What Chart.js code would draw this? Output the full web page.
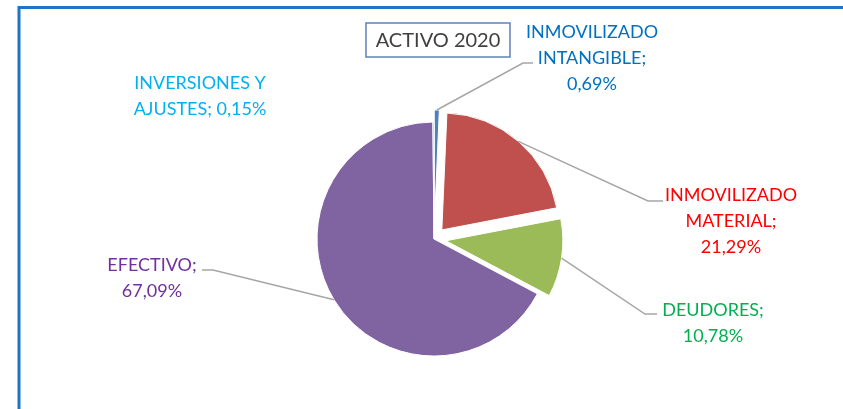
<!DOCTYPE html>
<html>
<head>
<meta charset="utf-8">
<script src="https://cdn.jsdelivr.net/npm/chart.js@4.4.1/dist/chart.umd.min.js"></script>
<style>
  body { margin: 0; background: #fff; }
  #marco { width: 843px; height: 409px; position: relative; }
</style>
</head>
<body>
<div id="marco"><canvas id="activo-2020"></canvas></div>
<script>
// datos del gráfico
const categorias = ['INMOVILIZADO INTANGIBLE', 'INMOVILIZADO MATERIAL', 'DEUDORES', 'EFECTIVO', 'INVERSIONES Y AJUSTES'];
const porcentajes = [0.69, 21.29, 10.78, 67.09, 0.15];
const titulo = 'ACTIVO 2020';

// estilo
const coloresSector = ['#4F81BD', '#C0504D', '#9BBB59', '#8064A2', '#4BACC6'];
const coloresTexto = ['#0070C0', '#FF0000', '#00B050', '#7030A0', '#00B0F0'];
const explotar = [12, 12, 12, 0, 0];
// posición de cada etiqueta: centro x, y de la primera línea, codo de la guía (null = sin guía)
const posEtiquetas = [
    { x: 592, y: 32, codo: [523, 63], fin: 533 },
    { x: 731, y: 195, codo: [648, 201], fin: 663 },
    { x: 713, y: 310, codo: [645, 314], fin: 657 },
    { x: 152, y: 265, codo: [213, 270], fin: 202 },
    { x: 200, y: 83, codo: null }
];
const fuente = '18px Lato';

function partirTexto(ctx, texto, ancho) {
    const palabras = texto.split(' ');
    const lineas = [];
    let actual = '';
    palabras.forEach(p => {
        const prueba = actual ? actual + ' ' + p : p;
        if (actual && ctx.measureText(prueba).width > ancho) {
            lineas.push(actual);
            actual = p;
        } else {
            actual = prueba;
        }
    });
    lineas.push(actual);
    return lineas;
}

const despiece = {
    id: 'despiece',
    beforeDraw(chart) {
        const ctx = chart.ctx;
        ctx.save();
        ctx.strokeStyle = '#1F74C6';
        ctx.lineWidth = 3;
        ctx.beginPath();
        ctx.moveTo(19, 409);
        ctx.lineTo(19, 7.5);
        ctx.lineTo(843, 7.5);
        ctx.stroke();
        ctx.restore();
    },
    beforeDatasetDraw(chart) {
        chart.getDatasetMeta(0).data.forEach((arc, i) => {
            const medio = (arc.startAngle + arc.endAngle) / 2;
            arc.x += Math.cos(medio) * explotar[i];
            arc.y += Math.sin(medio) * explotar[i];
        });
    },
    afterDatasetDraw(chart) {
        chart.getDatasetMeta(0).data.forEach((arc, i) => {
            const medio = (arc.startAngle + arc.endAngle) / 2;
            arc.x -= Math.cos(medio) * explotar[i];
            arc.y -= Math.sin(medio) * explotar[i];
        });
    },
    afterDraw(chart) {
        const ctx = chart.ctx;
        ctx.save();
        ctx.font = fuente;
        ctx.textAlign = 'center';
        ctx.textBaseline = 'middle';
        chart.getDatasetMeta(0).data.forEach((arc, i) => {
            const pos = posEtiquetas[i];
            const medio = (arc.startAngle + arc.endAngle) / 2;
            if (pos.codo) {
                const r = arc.outerRadius + explotar[i];
                ctx.strokeStyle = '#A6A6A6';
                ctx.lineWidth = 1.5;
                ctx.beginPath();
                ctx.moveTo(arc.x + Math.cos(medio) * r, arc.y + Math.sin(medio) * r);
                ctx.lineTo(pos.codo[0], pos.codo[1]);
                ctx.lineTo(pos.fin, pos.codo[1]);
                ctx.stroke();
            }
            const texto = categorias[i] + '; ' + porcentajes[i].toFixed(2).replace('.', ',') + '%';
            ctx.fillStyle = coloresTexto[i];
            partirTexto(ctx, texto, 140).forEach((linea, j) => {
                ctx.fillText(linea, pos.x, pos.y + j * 26);
            });
        });
        // cuadro del título
        ctx.fillStyle = '#fff';
        ctx.fillRect(366, 23, 144, 34);
        ctx.strokeStyle = '#5E82B8';
        ctx.lineWidth = 1.5;
        ctx.strokeRect(366, 23, 144, 34);
        ctx.fillStyle = '#404040';
        ctx.font = '20px Lato';
        ctx.fillText(titulo, 438, 41);
        ctx.restore();
    }
};

const ctx = document.getElementById('activo-2020').getContext('2d');
const graficoActivo = new Chart(ctx, {
    type: 'pie',
    data: {
        labels: categorias,
        datasets: [{
            data: porcentajes,
            backgroundColor: coloresSector,
            borderColor: '#fff',
            borderWidth: 1
        }]
    },
    options: {
        responsive: true,
        maintainAspectRatio: false,
        animation: false,
        events: [],
        radius: 117,
        layout: { padding: { left: 125, right: 100, top: 100, bottom: 31 } },
        plugins: {
            legend: { display: false },
            tooltip: { enabled: false }
        }
    },
    plugins: [despiece]
});
</script>
</body>
</html>
